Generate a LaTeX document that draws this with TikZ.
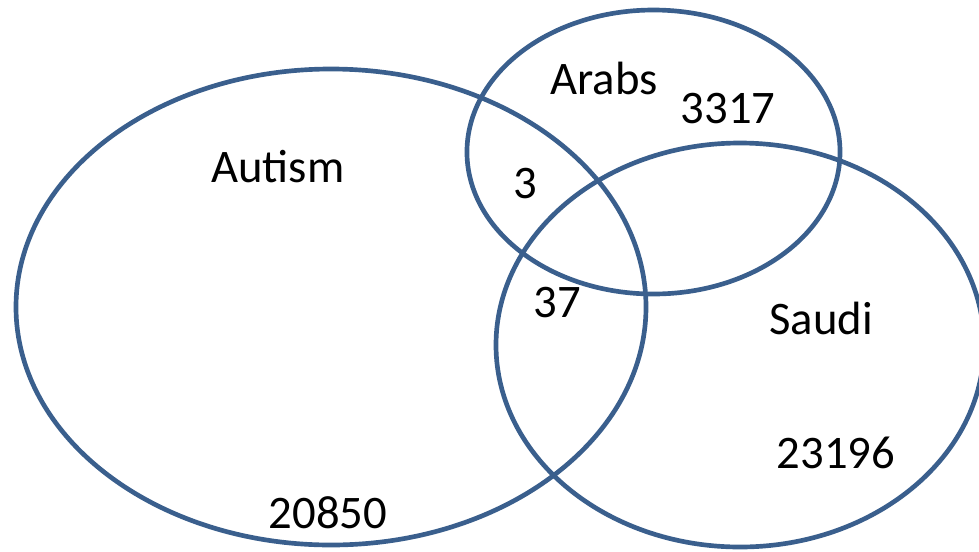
\documentclass[tikz,border=0pt]{standalone}
\usepackage{fontspec}
\setmainfont{Carlito}
\definecolor{setblue}{HTML}{3A5F8D}
\begin{document}
\begin{tikzpicture}[x=0.75pt,y=-0.75pt,line join=round, line cap=round,
    setline/.style={draw=setblue,line width=3.5pt},
    setlabel/.style={inner sep=0pt,font=\fontsize{35}{42}\selectfont}]
    %% picture frame
    \useasboundingbox (0,0) rectangle (979,551);
    \clip (0,0) rectangle (979,551);
    %% the three sets
    \draw[setline] (331,307) ellipse [x radius=236.25pt, y radius=178.5pt];
    \draw[setline] (653.5,152) ellipse [x radius=139.9pt, y radius=106.5pt];
    \draw[setline] (740,345) ellipse [x radius=183pt, y radius=151.5pt];
    %% names and counts
    \node[setlabel] (autism) at (278,167) {Autism};
    \node[setlabel] (arabs) at (604,78) {Arabs};
    \node[setlabel] (saudi) at (821,318) {Saudi};
    \node[setlabel] (nautism) at (328,513) {20850};
    \node[setlabel] (narabs) at (728,109) {3317};
    \node[setlabel] (nsaudi) at (836,453) {23196};
    \node[setlabel] (nautarab) at (525,184) {3};
    \node[setlabel] (nautsaudi) at (557,303) {37};
\end{tikzpicture}
\end{document}
